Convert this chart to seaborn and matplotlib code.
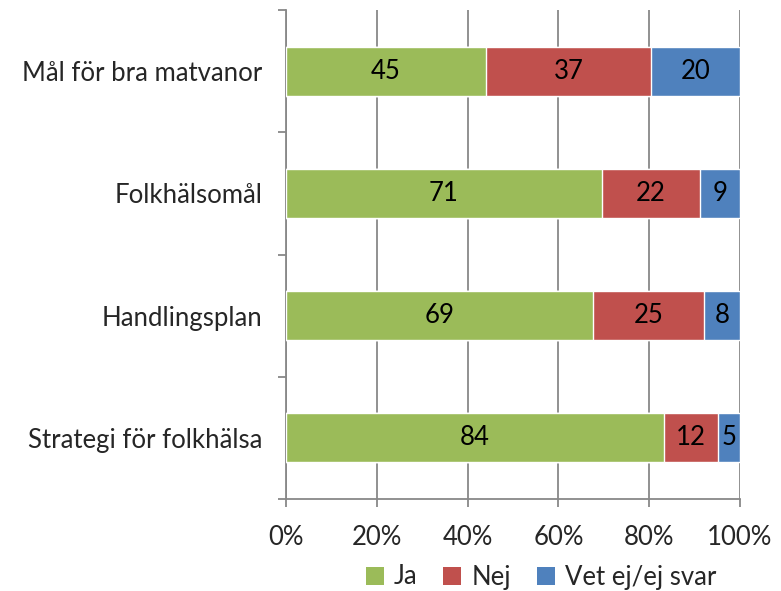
import matplotlib
matplotlib.use("Agg")
import matplotlib.pyplot as plt
import seaborn as sns
import pandas as pd
import numpy as np
from matplotlib.patches import Patch

categories = ["Mål för bra matvanor", "Folkhälsomål", "Handlingsplan", "Strategi för folkhälsa"]
ja = [45, 71, 69, 84]
nej = [37, 22, 25, 12]
vet = [20, 9, 8, 5]
series_names = ["Ja", "Nej", "Vet ej/ej svar"]
colors = ["#9BBB59", "#C0504D", "#4F81BD"]
xticklabels = ["0%", "20%", "40%", "60%", "80%", "100%"]

sns.set_style("white")
plt.rcParams["font.family"] = ["Lato", "DejaVu Sans"]
FS = 18.5

vals = np.array([ja, nej, vet], dtype=float)
tot = vals.sum(axis=0)
pct = vals / tot * 100
cum = np.cumsum(pct, axis=0)

fig = plt.figure(figsize=(7.81, 5.91), dpi=100)
ax = fig.add_axes([286/781, 1-499/591, (740-286)/781, (499-10)/591])

for i in [2, 1, 0]:
    df = pd.DataFrame({"cat": categories, "val": cum[i]})
    sns.barplot(data=df, x="val", y="cat", orient="h", color=colors[i],
                saturation=1, width=0.4, ax=ax, zorder=3)

for i in range(3):
    left = cum[i] - pct[i]
    for j in range(len(categories)):
        ax.text(left[j] + pct[i][j] / 2, j, str(int(vals[i][j])),
                ha="center", va="center", fontsize=FS, color="black", zorder=5)

ax.set_xlim(0, 100)
ax.set_ylim(3.5, -0.5)
ax.set_xticks(np.arange(0, 101, 20))
ax.set_xticklabels(xticklabels, fontsize=FS)
ax.set_yticks(np.arange(4))
ax.set_yticklabels(categories, fontsize=FS)
ax.set_xlabel("")
ax.set_ylabel("")
ax.grid(axis="x", color="#888888", linewidth=1.3, zorder=0)
ax.set_axisbelow(True)
for s in ["top", "right"]:
    ax.spines[s].set_visible(False)
for s in ["left", "bottom"]:
    ax.spines[s].set_color("#888888")
    ax.spines[s].set_linewidth(1.3)

# category boundary ticks on y
ax.set_yticks(np.arange(-0.5, 4, 1), minor=True)
ax.tick_params(axis="y", which="both", left=True)
ax.tick_params(axis="x", which="both", bottom=True)
ax.tick_params(axis="y", which="major", length=0, pad=17)
ax.tick_params(axis="y", which="minor", length=6, width=1.3, color="#888888", direction="out")
ax.tick_params(axis="x", which="major", length=6, width=1.3, color="#888888", direction="out", pad=13)
ax.tick_params(axis="x", which="minor", length=0)

handles = [Patch(facecolor=c, edgecolor="none") for c in colors]
fig.legend(handles, series_names, loc="center", bbox_to_anchor=(541/781, 1-577/591),
           ncol=3, frameon=False, fontsize=FS, handlelength=0.7, handleheight=0.7,
           handletextpad=0.4, columnspacing=1.0)

fig.savefig("out.png", dpi=100)
